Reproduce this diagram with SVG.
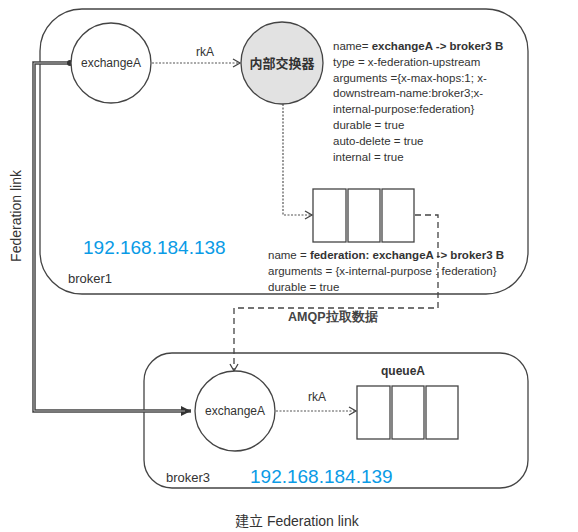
<svg xmlns="http://www.w3.org/2000/svg" width="578" height="532" viewBox="0 0 578 532">
<style>
text{font-family:"Liberation Sans",Arial,sans-serif;fill:#333}
.box{fill:none;stroke:#444;stroke-width:1.3}
.circ{fill:#fff;stroke:#444;stroke-width:1.3}
.cell{fill:#fff;stroke:#444;stroke-width:1.3}
.dot{fill:none;stroke:#555;stroke-width:1.2;stroke-dasharray:2 1.5}
.dash{fill:none;stroke:#444;stroke-width:1.3;stroke-dasharray:6 4}
.t{font-size:11.5px}
.ip{font-size:19px;fill:#0a9be6}
.b{font-weight:bold}
</style>
<defs>
<marker id="chev" markerWidth="10" markerHeight="10" refX="8" refY="5" orient="auto" markerUnits="userSpaceOnUse">
<path d="M1,1 L8,5 L1,9" fill="none" stroke="#444" stroke-width="1.3"/>
</marker>
<marker id="tri" markerWidth="12" markerHeight="12" refX="10" refY="6" orient="auto" markerUnits="userSpaceOnUse">
<path d="M0,1 L10,6 L0,11 Z" fill="#333"/>
</marker>
</defs>
<rect width="578" height="532" fill="#fff"/>

<g id="broker1">
<rect class="box" x="40" y="9" width="488" height="285" rx="42"/>
<text x="68" y="283" style="font-size:13px">broker1</text>
<text class="ip" x="83" y="254">192.168.184.138</text>
</g>

<g id="broker3">
<rect class="box" x="144" y="353" width="384" height="135" rx="28"/>
<text x="166" y="482" style="font-size:13px">broker3</text>
<text class="ip" x="250" y="483">192.168.184.139</text>
</g>

<g id="connectors">
<path d="M70,63 H34 V411 H191" fill="none" stroke="#444" stroke-width="3.5" marker-end="url(#tri)"/>
<path d="M70,63 H34 V411 H185" fill="none" stroke="#ccc" stroke-width="0.8"/>
<circle cx="70" cy="63" r="3" fill="#333"/>
<path class="dot" d="M152,63 H240" marker-end="url(#chev)"/>
<path class="dot" d="M283,104 V215 H312" marker-end="url(#chev)"/>
<path class="dash" d="M415,215 H438 V308 H234 V371" marker-end="url(#chev)"/>
<path class="dot" d="M276,411 H356" marker-end="url(#chev)"/>
<text x="196" y="56" style="font-size:12px">rkA</text>
<text x="308" y="401" style="font-size:12px">rkA</text>
<text x="288" y="321" style="font-size:12.5px;font-weight:bold;fill:#444">AMQP拉取数据</text>
<text x="21" y="216" transform="rotate(-90 21 216)" text-anchor="middle" style="font-size:14px">Federation link</text>
</g>

<g id="exchangeA1">
<circle class="circ" cx="111" cy="63" r="40"/>
<text x="111" y="67" text-anchor="middle" style="font-size:12px">exchangeA</text>
</g>

<g id="internalExchange">
<circle cx="282" cy="63" r="41" fill="#e2e2e2" stroke="#444" stroke-width="1.3"/>
<text x="282" y="68" text-anchor="middle" class="b" style="font-size:13px;font-family:'Noto Sans CJK SC',sans-serif">内部交换器</text>
</g>

<g id="upstreamInfo" class="t">
<text x="333" y="50">name= <tspan class="b">exchangeA -&gt; broker3  B</tspan></text>
<text x="333" y="66">type = x-federation-upstream</text>
<text x="333" y="82">arguments  ={x-max-hops:1; x-</text>
<text x="333" y="97">downstream-name:broker3;x-</text>
<text x="333" y="113">internal-purpose:federation}</text>
<text x="333" y="129">durable = true</text>
<text x="333" y="145">auto-delete  = true</text>
<text x="333" y="161">internal = true</text>
</g>

<g id="queue1">
<rect class="cell" x="313" y="189" width="33" height="53"/>
<rect class="cell" x="348" y="189" width="32" height="53"/>
<rect class="cell" x="382" y="189" width="32" height="53"/>
</g>

<g id="queue1Info" class="t">
<text x="268" y="259">name = <tspan class="b">federation: exchangeA -&gt; broker3 B</tspan></text>
<text x="268" y="275">arguments = {x-internal-purpose : federation}</text>
<text x="268" y="291">durable = true</text>
</g>

<g id="exchangeA3">
<circle class="circ" cx="235" cy="411" r="40"/>
<text x="235" y="415" text-anchor="middle" style="font-size:12px">exchangeA</text>
</g>

<g id="queueA">
<rect class="cell" x="357" y="386" width="33" height="53"/>
<rect class="cell" x="392" y="386" width="32" height="53"/>
<rect class="cell" x="426" y="386" width="32" height="53"/>
<text x="403" y="375" text-anchor="middle" class="b" style="font-size:12px">queueA</text>
</g>

<text x="235" y="526" style="font-size:14px;font-family:'Liberation Sans','Noto Sans CJK SC',sans-serif">建立 Federation link</text>
</svg>
